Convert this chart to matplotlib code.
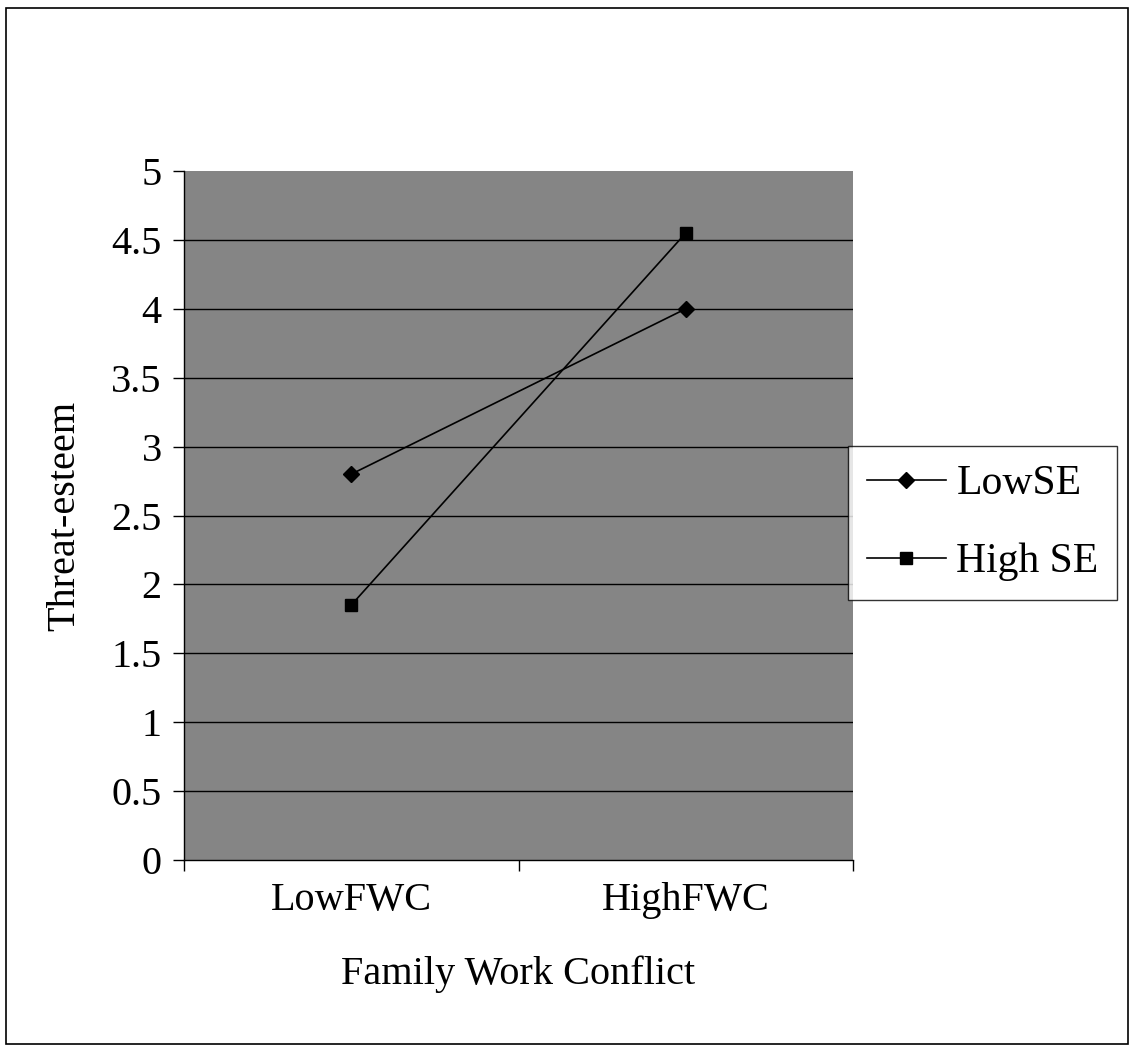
import matplotlib
matplotlib.use("Agg")
import matplotlib.pyplot as plt
from matplotlib.patches import Rectangle

# --- data ---
categories = ["LowFWC", "HighFWC"]
low_se = [2.8, 4.0]
high_se = [1.85, 4.55]
y_ticks = [0, 0.5, 1, 1.5, 2, 2.5, 3, 3.5, 4, 4.5, 5]
y_tick_labels = ["0", "0.5", "1", "1.5", "2", "2.5", "3", "3.5", "4", "4.5", "5"]

plt.rcParams['font.family'] = ['Liberation Serif', 'DejaVu Serif']

fig = plt.figure(figsize=(11.35, 10.5), dpi=100)
ax = fig.add_axes([184 / 1135, 1 - 860 / 1050, (853 - 184) / 1135, (860 - 171) / 1050])

# gray plot area (flat stand-in for the scanned texture)
ax.set_facecolor('#858585')

x_pos = [i + 0.5 for i in range(len(categories))]
ax.plot(x_pos, low_se, color='black', lw=1.2, marker='D', ms=8, label='LowSE')
ax.plot(x_pos, high_se, color='black', lw=1.2, marker='s', ms=8, label='High SE')

ax.set_xlim(0, len(categories))
ax.set_ylim(0, 5)

# category boundaries as major ticks, names at centres
ax.set_xticks(range(len(categories) + 1))
ax.set_xticklabels([])
ax.set_xticks(x_pos, minor=True)
ax.set_xticklabels(categories, minor=True, fontsize=29)
ax.tick_params(axis='x', which='major', direction='out', length=8, width=1)
ax.tick_params(axis='x', which='minor', length=0, pad=16)

ax.set_yticks(y_ticks)
ax.set_yticklabels(y_tick_labels, fontsize=29)
ax.tick_params(axis='y', direction='out', length=8, width=1, pad=8)

for y in y_ticks[1:-1]:
    ax.axhline(y, color='black', lw=1.0, zorder=1)

ax.spines['top'].set_visible(False)
ax.spines['right'].set_visible(False)
ax.spines['left'].set_linewidth(1.0)
ax.spines['bottom'].set_linewidth(1.0)

ax.set_ylabel("Threat-esteem", fontsize=29, labelpad=20)
ax.set_xlabel("Family Work Conflict", fontsize=29, labelpad=26)

leg = ax.legend(loc='center left', bbox_to_anchor=(848 / 1135, 1 - 523 / 1050),
                bbox_transform=fig.transFigure, fontsize=30, frameon=True,
                fancybox=False, edgecolor='black', handlelength=1.9,
                handletextpad=0.25, borderpad=0.45, labelspacing=0.95,
                borderaxespad=0)
leg.get_frame().set_linewidth(1.0)

# outer border of the figure
fig.patches.append(Rectangle((6 / 1135, 6 / 1050), 1122 / 1135, 1036 / 1050,
                             transform=fig.transFigure, fill=False,
                             edgecolor='black', lw=1.2))

fig.savefig("out.png", dpi=100)
